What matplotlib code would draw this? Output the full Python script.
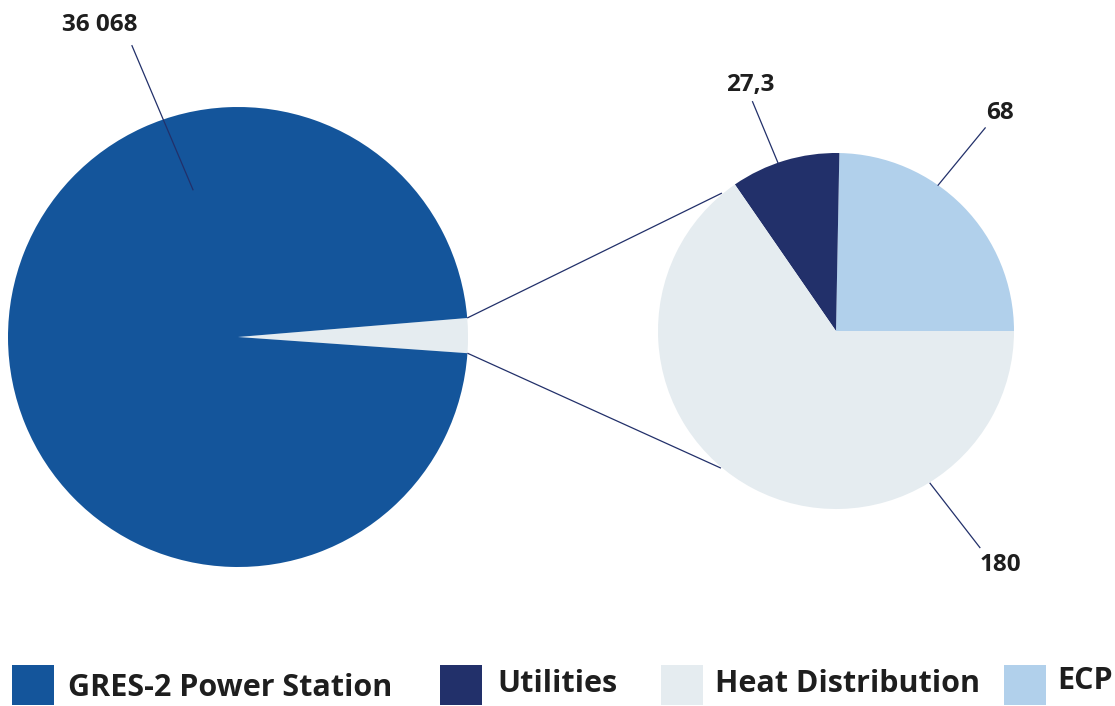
import numpy as np
import matplotlib
matplotlib.use("Agg")
import matplotlib.pyplot as plt
from matplotlib.patches import Rectangle

# ---- data ----
categories = ["GRES-2 Power Station", "Utilities", "Heat Distribution", "ECP"]
values = [36068, 27.3, 180, 68]
value_labels = ["36 068", "27,3", "180", "68"]
colors = ["#14559B", "#22306A", "#E5ECF0", "#B1D0EB"]

W, H = 1115, 706
fig = plt.figure(figsize=(W / 100, H / 100), dpi=100)
ax = fig.add_axes([0, 0, 1, 1])

FONT = "Open Sans"
TXT = "#1E1E1E"
LINE = "#22306A"

def Y(y):
    return H - y

# ---- big pie: GRES vs rest (rest slice enlarged for visibility) ----
big_c = (238, Y(337))
big_r = 230
rest = sum(values[1:])
min_share = 0.0242
rest_disp = max(rest, min_share * (values[0] + rest) / (1 - min_share))
rest_deg = 360 * rest_disp / (values[0] + rest_disp)
start = -rest_deg * 0.46
ax.pie([rest_disp, values[0]], colors=[colors[2], colors[0]], center=big_c,
       radius=big_r, startangle=start, counterclock=True,
       wedgeprops=dict(linewidth=0), frame=True)

# ---- small pie: ECP, Utilities, Heat ----
sm_c = (836, Y(331))
sm_r = 178
ax.pie([values[3], values[1], values[2]], colors=[colors[3], colors[1], colors[2]],
       center=sm_c, radius=sm_r, startangle=0, counterclock=True,
       wedgeprops=dict(linewidth=0), frame=True)
ax.set_xlim(0, W)
ax.set_ylim(0, H)
ax.set_aspect("equal")
ax.axis("off")

def pol(c, r, deg):
    a = np.deg2rad(deg)
    return c[0] + r * np.cos(a), c[1] + r * np.sin(a)

# connector lines
a_top = start + rest_deg
a_bot = start
for a_big, a_sm in [(a_top, 129.6), (a_bot, 230.0)]:
    p1 = pol(big_c, big_r, a_big)
    p2 = pol(sm_c, sm_r + 1, a_sm)
    ax.plot([p1[0], p2[0]], [p1[1], p2[1]], color=LINE, lw=0.9, solid_capstyle="butt")

# value labels with leader lines: (center, inner r, inner angle, outer r, outer angle, text xy)
leaders = [
    (big_c, 154, 107, 310, 110, (100, 25)),
    (sm_c, 176, 109, 244, 110, (750, 85)),
    (sm_c, 179, 301.7, 260, 303.6, (1000, 565)),
    (sm_c, 178, 55, 252, 53.7, (1000, 113)),
]
for lab, (c, r1, a1, r2, a2, (tx, ty)) in zip(value_labels, leaders):
    p1 = pol(c, r1, a1)
    p2 = pol(c, r2, a2)
    ax.plot([p1[0], p2[0]], [p1[1], p2[1]], color=LINE, lw=0.9)
    ax.text(tx, Y(ty), lab, ha="center", va="center", fontsize=17.5,
            fontweight="bold", family=FONT, color=TXT)

# ---- legend ----
leg_sq_x = [12, 440, 661, 1004]
leg_tx_x = [68, 497, 715, 1057]
leg_tx_y = [688, 684, 684, 681]
for i, name in enumerate(categories):
    ax.add_patch(Rectangle((leg_sq_x[i], Y(705)), 42, 40, facecolor=colors[i],
                           edgecolor="none"))
    ax.text(leg_tx_x[i], Y(leg_tx_y[i]), name, ha="left", va="center",
            fontsize=22, fontweight="bold", family=FONT, color=TXT)

fig.savefig("out.png", dpi=100)
